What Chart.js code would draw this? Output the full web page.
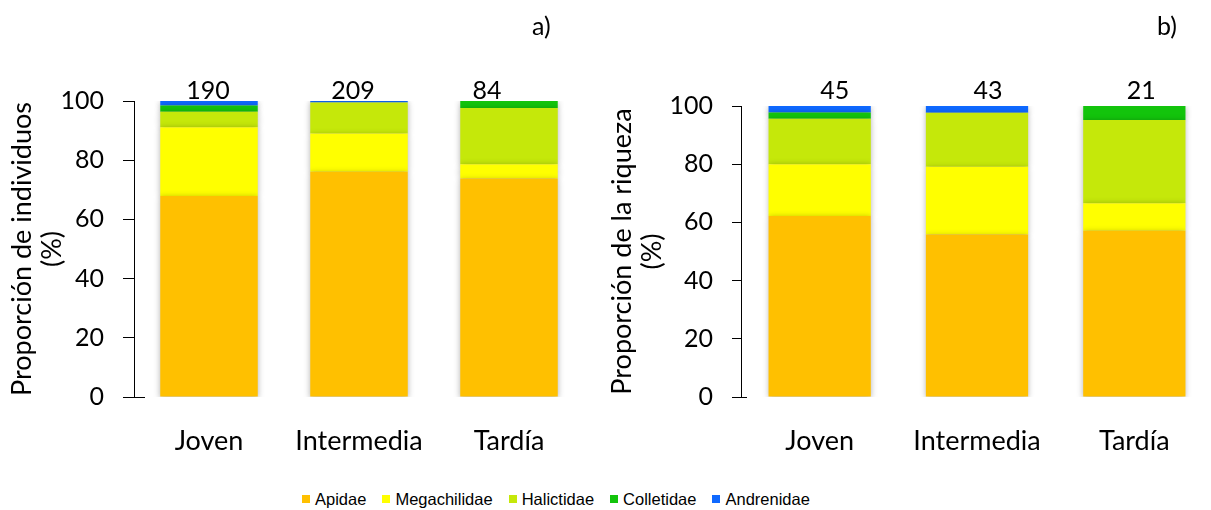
<!DOCTYPE html>
<html>
<head>
<meta charset="utf-8">
<script src="https://cdn.jsdelivr.net/npm/chart.js@4.4.1/dist/chart.umd.min.js"></script>
<style>
  html, body { margin: 0; padding: 0; background: #fff; overflow: hidden; width: 1211px; height: 510px; }
  #wrap { position: relative; width: 1211px; height: 510px; overflow: hidden; }
  canvas { position: absolute; top: 0; }
  #chartA { left: 0; }
  #chartB { left: 600px; }
  .panel { position: absolute; top: 10px; font: 25px Lato, "Open Sans", sans-serif; color: #000; line-height: 30px; }
  #legend { position: absolute; left: 302px; top: 489px; display: flex; align-items: center;
            font: 16.5px "Liberation Sans", Arial, sans-serif; color: #000; line-height: 20px; }
  #legend .item { display: flex; align-items: center; margin-right: 16px; }
  #legend .sw { width: 8px; height: 8px; margin-right: 5px; }
</style>
</head>
<body>
<div id="wrap">
  <canvas id="chartA" width="600" height="470"></canvas>
  <canvas id="chartB" width="613" height="470"></canvas>
  <div class="panel" style="left:532px">a)</div>
  <div class="panel" style="left:1157px">b)</div>
  <div id="legend"></div>
</div>
<script>
// Sucesión: estados de la vegetación
const categories = ['Joven', 'Intermedia', 'Tardía'];
const families = ['Apidae', 'Megachilidae', 'Halictidae', 'Colletidae', 'Andrenidae'];
const familyColors = ['#FFC000', '#FFFF00', '#C5E80A', '#13C40C', '#0F69FF'];
const yTicks = [0, 20, 40, 60, 80, 100];

// a) Proporción de individuos (%)
const individuosApidae       = [67.9, 76.1, 73.8];
const individuosMegachilidae = [23.2, 12.9, 4.8];
const individuosHalictidae   = [5.3, 10.5, 19.0];
const individuosColletidae   = [2.1, 0, 2.4];
const individuosAndrenidae   = [1.5, 0.5, 0];
const totalIndividuos        = [190, 209, 84];

// b) Proporción de la riqueza (%)
const riquezaApidae       = [62.2, 55.8, 57.1];
const riquezaMegachilidae = [17.8, 23.3, 9.5];
const riquezaHalictidae   = [15.6, 18.6, 28.6];
const riquezaColletidae   = [2.2, 0, 4.8];
const riquezaAndrenidae   = [2.2, 2.3, 0];
const totalRiqueza        = [45, 43, 21];

const FONT = 'Lato, "Open Sans", sans-serif';

// soft outer shadow behind the stacked segments
const barShadow = {
  id: 'barShadow',
  beforeDatasetsDraw(chart) {
    const ctx = chart.ctx;
    ctx.save();
    ctx.shadowColor = 'rgba(0,0,0,0.30)';
    ctx.shadowBlur = 6;
    ctx.shadowOffsetX = 0;
    ctx.shadowOffsetY = 1;
  },
  afterDatasetsDraw(chart) {
    chart.ctx.restore();
  }
};

// totals above each column + crossing tick at zero
const extras = {
  id: 'extras',
  afterDraw(chart, args, opts) {
    const ctx = chart.ctx;
    const y = chart.scales.y;
    const meta = chart.getDatasetMeta(0);
    ctx.save();
    ctx.fillStyle = '#000';
    ctx.font = '25px ' + FONT;
    ctx.textAlign = 'center';
    ctx.textBaseline = 'alphabetic';
    opts.values.forEach((v, i) => {
      const bar = meta.data[i];
      ctx.fillText(String(v), bar.x + opts.shifts[i], y.getPixelForValue(100) - opts.gap);
    });
    const y0 = y.getPixelForValue(0);
    ctx.strokeStyle = '#000';
    ctx.lineWidth = 1;
    ctx.beginPath();
    ctx.moveTo(y.right, Math.round(y0) + 0.5);
    ctx.lineTo(y.right + opts.cross, Math.round(y0) + 0.5);
    ctx.stroke();
    ctx.restore();
  }
};

function buildDatasets(series) {
  return families.map((name, k) => ({
    label: name,
    data: series[k],
    backgroundColor: familyColors[k],
    borderWidth: 0,
    barPercentage: 0.65,
    categoryPercentage: 1.0
  }));
}

function makeChart(id, series, totals, shifts, gap, title, yWidth, tickLen, padTop, padRight, cross) {
  return new Chart(document.getElementById(id), {
    type: 'bar',
    data: { labels: categories, datasets: buildDatasets(series) },
    options: {
      responsive: false,
      animation: false,
      layout: { padding: { top: padTop, right: padRight, bottom: 13, left: 0 } },
      plugins: {
        legend: { display: false },
        tooltip: { enabled: false },
        extras: { values: totals, shifts: shifts, gap: gap, cross: cross }
      },
      scales: {
        x: {
          stacked: true,
          grid: { display: false, drawTicks: false },
          border: { display: false },
          ticks: { color: '#000', font: { family: FONT, size: 27 }, padding: 28 },
          afterFit: s => { s.height = 60; }
        },
        y: {
          stacked: true,
          min: 0, max: 100,
          afterBuildTicks: s => { s.ticks = yTicks.map(v => ({ value: v })); },
          grid: { drawOnChartArea: false, drawTicks: true, tickLength: tickLen, color: '#000', lineWidth: 1 },
          border: { display: true, color: '#000', width: 1 },
          ticks: { color: '#000', font: { family: FONT, size: 25 }, padding: 19 },
          title: {
            display: true, text: title, color: '#000',
            font: { family: FONT, size: 27, lineHeight: 1.11 },
            padding: { top: 7, bottom: 0 }
          },
          afterFit: s => { s.width = yWidth; }
        }
      }
    },
    plugins: [barShadow, extras]
  });
}

makeChart('chartA',
  [individuosApidae, individuosMegachilidae, individuosHalictidae, individuosColletidae, individuosAndrenidae],
  totalIndividuos, [-1, -6, -22], 2,
  ['Proporción de individuos', '(%)'], 134, 11, 101, 16, 11);

makeChart('chartB',
  [riquezaApidae, riquezaMegachilidae, riquezaHalictidae, riquezaColletidae, riquezaAndrenidae],
  totalRiqueza, [15, 11, 7], 7,
  ['Proporción de la riqueza', '(%)'], 141, 9, 106, 0, 6);

// legend
const legend = document.getElementById('legend');
families.forEach((name, k) => {
  const item = document.createElement('div');
  item.className = 'item';
  const sw = document.createElement('span');
  sw.className = 'sw';
  sw.style.background = familyColors[k];
  const tx = document.createElement('span');
  tx.textContent = name;
  item.appendChild(sw);
  item.appendChild(tx);
  legend.appendChild(item);
});
</script>
</body>
</html>
